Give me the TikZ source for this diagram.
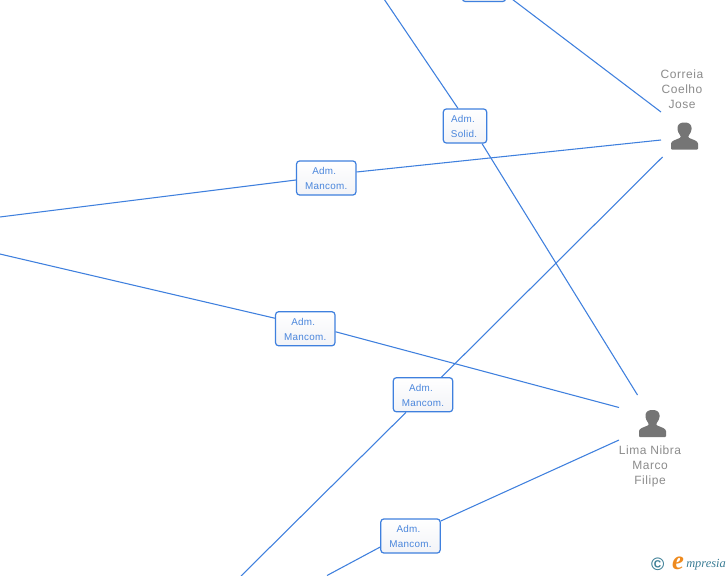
\documentclass[tikz,border=0pt]{standalone}
\usepackage{fontspec}
\setmainfont{Liberation Sans}
\newfontfamily\boxfont[LetterSpace=3]{Liberation Sans}
\newfontfamily\namefont[LetterSpace=4.5]{Liberation Sans}
\newfontfamily\logofont{Liberation Serif}
\usetikzlibrary{calc}
\definecolor{linkblue}{HTML}{3F80DE}
\definecolor{boxtext}{HTML}{4A86DC}
\definecolor{boxlow}{HTML}{F2F3F7}
\definecolor{persongray}{HTML}{757575}
\definecolor{nametext}{HTML}{8C8C8C}
\definecolor{logoteal}{HTML}{3C7E96}
\definecolor{logoorange}{HTML}{EE8A1E}
\tikzset{
  x=0.75pt,y=-0.75pt,
  link/.style={draw=linkblue,line width=0.8pt},
  rolebox/.style={draw=linkblue,line width=0.9pt,rounded corners=2.2pt,top color=white,bottom color=boxlow,
    minimum height=25.5pt,inner sep=0pt,align=center,text=boxtext,font=\boxfont\fontsize{7.4pt}{11.25pt}\selectfont},
  wide/.style={minimum width=44.5pt},
  narrow/.style={minimum width=32.5pt},
  personname/.style={align=center,text=nametext,inner sep=0pt,font=\namefont\fontsize{9pt}{11.25pt}\selectfont},
  pics/person/.style={code={
    \fill[persongray,rounded corners=0.6pt] (-13.5,13.5) -- (-13.5,8.5) .. controls (-13.5,4.5) and (-7.5,3.5) .. (-3.8,1.5)
      -- (-3.8,0) .. controls (-6,-2.5) and (-7,-5.5) .. (-7,-7.5) .. controls (-7,-11.5) and (-4,-13.5) .. (0,-13.5)
      .. controls (4,-13.5) and (7,-11.5) .. (7,-7.5) .. controls (7,-5.5) and (6,-2.5) .. (3.8,0)
      -- (3.8,1.5) .. controls (7.5,3.5) and (13.5,4.5) .. (13.5,8.5) -- (13.5,13.5) -- cycle;
  }}
}
\newcommand{\admline}{\rule{0pt}{6.8pt}Adm.\hspace*{3pt}}
\pgfdeclarelayer{under}
\pgfsetlayers{under,main}
\begin{document}
\begin{tikzpicture}
\useasboundingbox (0,0) rectangle (728,575);
\clip (0,0) rectangle (728,575);

% role boxes
\node[rolebox,narrow] (top) at (484,-15.5) {};
\node[rolebox,narrow] (solid) at (465,126) {\admline\\Solid.\hspace*{1.5pt}};
\node[rolebox,wide] (m1) at (326.25,178) {\admline\\Mancom.};
\node[rolebox,wide] (m2) at (305.25,328.75) {\admline\\Mancom.};
\node[rolebox,wide] (m3) at (423,394.75) {\admline\\Mancom.};
\node[rolebox,wide] (m4) at (410.5,536) {\admline\\Mancom.};

% people
\pic at (684.5,136) {person};
\pic at (652.5,423.5) {person};
\node[personname] (correia) at (682,89) {Correia\\Coelho\\Jose};
\node[personname] (lima) at (650,466) {Lima Nibra\\Marco\\Filipe};

% free ends
\coordinate (c1) at (661,112);
\coordinate (c2) at (661,140);
\coordinate (c3) at (662.5,157);
\coordinate (l1) at (637.5,395);
\coordinate (l2) at (619,407.5);
\coordinate (l3) at (619,440);
\coordinate (o1) at (384,-1);
\coordinate (o2) at (-1,217.1);
\coordinate (o3) at (-1,253.8);
\coordinate (o4) at (241,576);
\coordinate (o5) at (327,575.5);

% connectors
\begin{pgfonlayer}{under}
\fill[white] (0,0) rectangle (728,575);
\clip (0,0) rectangle (728,575);
\draw[link] ($(top.east)+(0,10.2)$) -- (c1);
\draw[link] (o1) -- ($(solid.north)+(-7,0)$);
\draw[link] ($(solid.south)+(17,0)$) -- (l1);
\draw[link] (o2) -- ($(m1.west)+(0,2)$);
\draw[link] ($(m1.east)+(0,-6)$) -- (c2);
\draw[link] (o3) -- ($(m2.west)+(0,-10.5)$);
\draw[link] ($(m2.east)+(0,3)$) -- (l2);
\draw[link] (c3) -- ($(m3.north)+(18.5,0)$);
\draw[link] ($(m3.south)+(-17,0)$) -- (o4);
\draw[link] (l3) -- ($(m4.east)+(0,-15)$);
\draw[link] ($(m4.west)+(0,11)$) -- (o5);
\end{pgfonlayer}

% logo
\node[inner sep=0pt,text=logoteal,font=\bfseries\fontsize{13.5pt}{13.5pt}\selectfont] (copy) at (657.7,564) {©};
\node[inner sep=0pt,text=logoorange,font=\logofont\bfseries\itshape\fontsize{20pt}{20pt}\selectfont] (logoe) at (678,563) {e};
\node[inner sep=0pt,anchor=west,text=logoteal,font=\logofont\itshape\fontsize{9.3pt}{9.3pt}\selectfont] (logotext) at (686,565) {mpresia};
\end{tikzpicture}
\end{document}
